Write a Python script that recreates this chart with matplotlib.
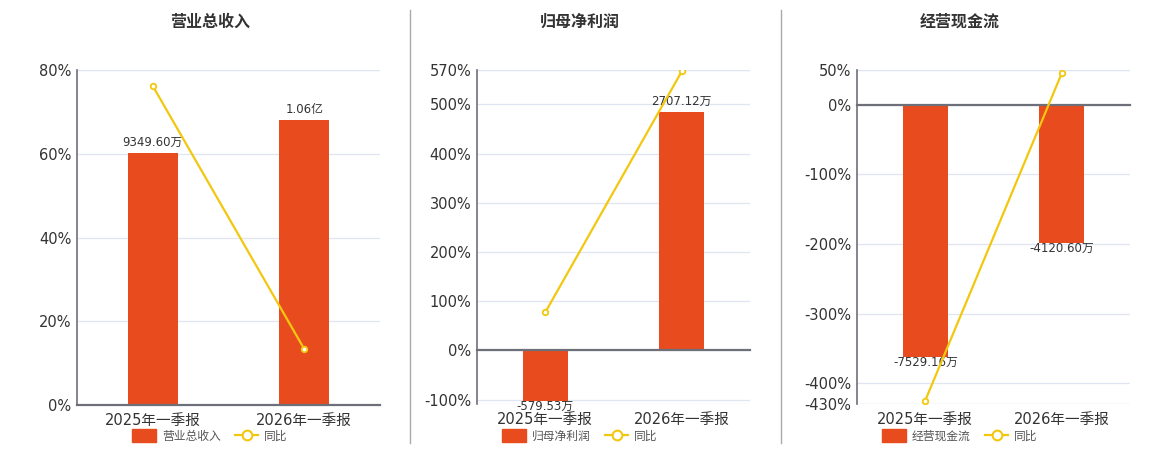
import matplotlib
matplotlib.use("Agg")
import matplotlib.pyplot as plt
from matplotlib.lines import Line2D
from matplotlib.patches import Patch
from matplotlib.transforms import blended_transform_factory

plt.rcParams["font.family"] = ["DejaVu Sans", "Noto Sans CJK SC"]

categories = ["2025年一季报", "2026年一季报"]

titles = ["营业总收入", "归母净利润", "经营现金流"]
bar_values = [[9349.60, 10600.0], [-579.53, 2707.12], [-7529.16, -4120.60]]
bar_labels = [["9349.60万", "1.06亿"], ["-579.53万", "2707.12万"], ["-7529.16万", "-4120.60万"]]
yoy_values = [[76.2, 13.37], [77.3, 567.12], [-425.0, 45.27]]

pct_ticks = [[0, 20, 40, 60, 80],
             [-100, 0, 100, 200, 300, 400, 500, 570],
             [-430, -400, -300, -200, -100, 0, 50]]
pct_limits = [(0, 80), (-109, 570), (-430, 50)]
bar_limits = [(0, 12450), (-609, 3184), (-8931, 1025)]

BAR = "#E84C1E"
LINE = "#F2C80F"
AXIS = "#6E7079"
GRID = "#E0E6F1"
TEXT = "#333333"

# axes boxes in pixels: left, right, top, bottom
W, H = 1160, 450
boxes = [(77, 380, 70, 405), (477, 750, 70, 404), (857, 1130, 70, 404)]
centers = [210, 580, 960]

fig = plt.figure(figsize=(W / 100, H / 100), dpi=100)

for i in range(3):
    l, r, t, b = boxes[i]
    rect = [l / W, 1 - b / H, (r - l) / W, (b - t) / H]
    ax = fig.add_axes(rect)
    axb = ax.twinx()
    axl = ax.twinx()

    lo, hi = pct_limits[i]
    x = list(range(len(categories)))

    # base axes: grid only
    ax.set_xlim(-0.5, 1.5)
    ax.set_ylim(lo, hi)
    for yv in pct_ticks[i] + [lo, hi]:
        ax.axhline(yv, color=GRID, lw=0.9, zorder=0)
    ax.set_yticks([])
    ax.tick_params(axis="x", bottom=False, labelbottom=False)
    for s in ax.spines.values():
        s.set_visible(False)

    # bars
    axb.set_ylim(*bar_limits[i])
    axb.bar(x, bar_values[i], width=0.33, color=BAR, zorder=2)
    for xi, v, lab in zip(x, bar_values[i], bar_labels[i]):
        if v >= 0:
            axb.annotate(lab, (xi, v), xytext=(0, 3), textcoords="offset points",
                         ha="center", va="bottom", fontsize=8.5, color=TEXT)
        else:
            axb.annotate(lab, (xi, v), xytext=(0, 0.8), textcoords="offset points",
                         ha="center", va="top", fontsize=8.5, color=TEXT)
    axb.set_yticks([])
    axb.tick_params(axis="x", bottom=False, labelbottom=False)
    for s in axb.spines.values():
        s.set_visible(False)

    # yoy line and axis decoration
    axl.set_xlim(-0.5, 1.5)
    axl.set_ylim(lo, hi)
    axl.plot(x, yoy_values[i], color=LINE, lw=1.6, marker="o", ms=4,
             mfc="white", mec=LINE, mew=1.3, zorder=5)
    axl.yaxis.tick_left()
    axl.set_yticks(pct_ticks[i])
    axl.set_yticklabels([f"{v}%" for v in pct_ticks[i]])
    axl.tick_params(axis="y", length=0, pad=4, labelsize=10.5, labelcolor=TEXT)
    axl.spines["right"].set_visible(False)
    axl.spines["top"].set_visible(False)
    axl.spines["left"].set_color(AXIS)
    axl.spines["left"].set_linewidth(1.2)
    axl.spines["bottom"].set_position(("data", 0))
    axl.spines["bottom"].set_color(AXIS)
    axl.spines["bottom"].set_linewidth(1.6)
    axl.set_xticks([-0.5, 0.5, 1.5])
    axl.set_xticklabels([])
    axl.tick_params(axis="x", bottom=True, length=5, width=1, color=AXIS, direction="out")

    trans = blended_transform_factory(axl.transData, axl.transAxes)
    for xi, c in zip(x, categories):
        axl.text(xi, -0.025, c, transform=trans, ha="center", va="top",
                 fontsize=10.5, color=TEXT)

    fig.text(centers[i] / W, 1 - 22 / H, titles[i], ha="center", va="center",
             fontsize=11.5, fontweight="bold", color=TEXT)

    handles = [Patch(facecolor=BAR, edgecolor=BAR),
               Line2D([0], [0], color=LINE, lw=1.6, marker="o", ms=7,
                      mfc="white", mec=LINE, mew=1.5)]
    fig.legend(handles, [titles[i], "同比"], loc="center",
               bbox_to_anchor=(centers[i] / W, 1 - 436 / H), ncol=2,
               frameon=False, fontsize=8.5, handlelength=2.0, handleheight=1.3,
               columnspacing=1.2, handletextpad=0.5, labelcolor="#555555")

# separators between panels
for xs in (410, 781):
    fig.add_artist(Line2D([xs / W, xs / W], [1 - 10 / H, 1 - 443 / H],
                          transform=fig.transFigure, color="#AAAAAA", lw=1))

fig.savefig("out.png", dpi=100)
